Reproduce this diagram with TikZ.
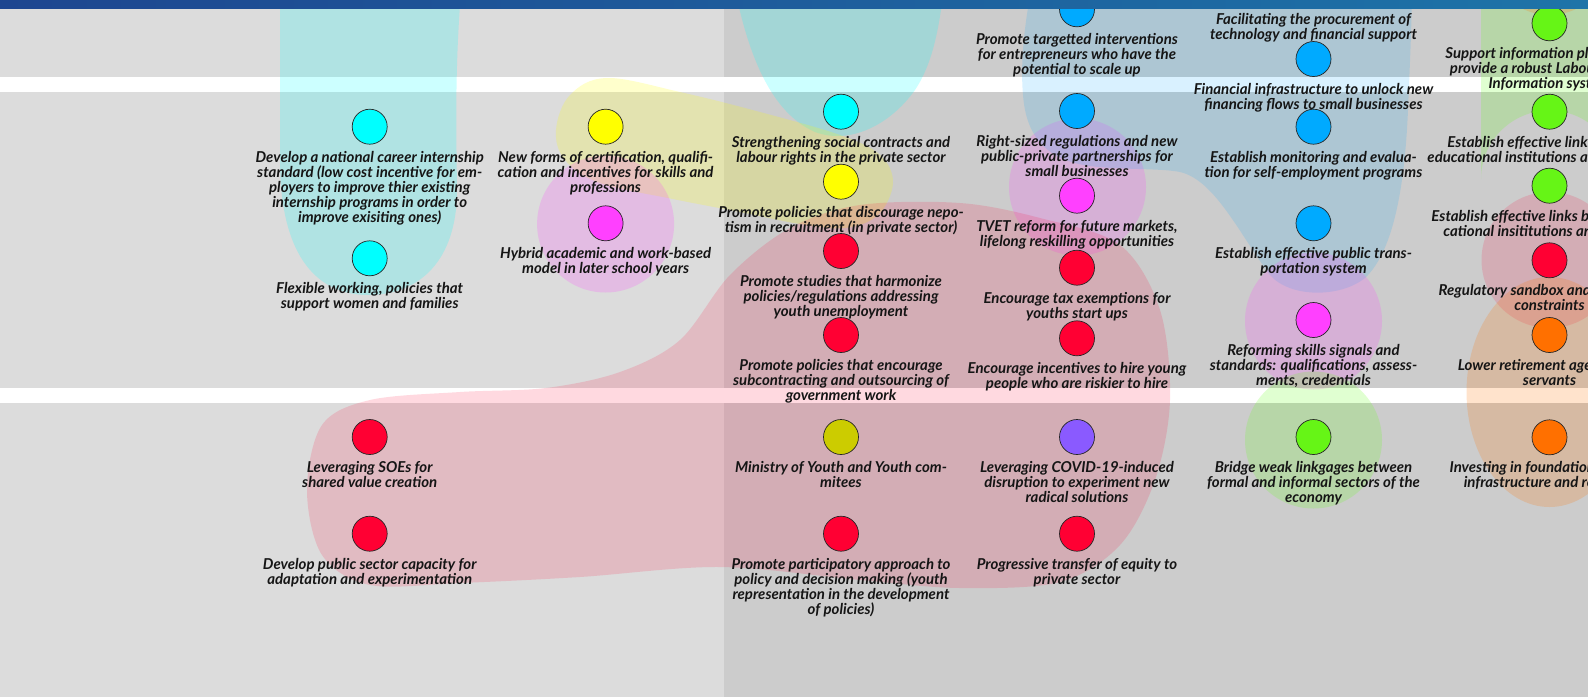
\documentclass[tikz,border=0pt]{standalone}
\usepackage{fontspec}
\setmainfont{Lato}
\definecolor{bgL}{HTML}{DCDCDC}
\definecolor{bgR}{HTML}{CCCCCC}
\definecolor{ncyan}{HTML}{00FFFF}
\definecolor{nyellow}{HTML}{FFFF00}
\definecolor{nmag}{HTML}{FF40FF}
\definecolor{nred}{HTML}{FF0033}
\definecolor{nblue}{HTML}{00AAFF}
\definecolor{ngreen}{HTML}{66F516}
\definecolor{norange}{HTML}{FF7000}
\definecolor{nolive}{HTML}{CCCC00}
\definecolor{npurple}{HTML}{8A5AFF}
\definecolor{barL}{HTML}{1E4690}
\definecolor{barR}{HTML}{1E74A8}
\definecolor{txtc}{HTML}{151515}
\tikzset{
  dot/.style={circle, draw=black!85, line width=0.7pt, minimum size=35pt, inner sep=0pt},
  txt/.style={anchor=north, align=center, inner sep=0pt, text=txtc,
    font=\fontsize{15}{15}\selectfont\bfseries\itshape, execute at begin node=\strut},
  below dot/.style={yshift=-24pt},
  blobcyan/.style={fill=ncyan, fill opacity=0.2},
  blobyellow/.style={fill=nyellow, fill opacity=0.2},
  blobmag/.style={fill=nmag, fill opacity=0.2},
  blobblue/.style={fill={rgb,255:red,0;green,165;blue,255}, fill opacity=0.15},
  blobred/.style={fill=nred, fill opacity=0.15},
  blobgreen/.style={fill={rgb,255:red,102;green,255;blue,26}, fill opacity=0.2},
  bloborange/.style={fill={rgb,255:red,255;green,115;blue,0}, fill opacity=0.2},
}
\begin{document}
\begin{tikzpicture}[x=1pt,y=-1pt]
\useasboundingbox (0,0) rectangle (1588,697);
\clip (0,0) rectangle (1588,697);
% background
\fill[bgL] (0,0) rectangle (724,697);
\fill[bgR] (724,0) rectangle (1588,697);
\fill[white] (0,77) rectangle (1588,92);
\fill[white] (0,388) rectangle (1588,403);
% blobs
\fill[blobcyan] (280,-20) -- (280,160) .. controls (280,260) and (320,295) .. (368,295)
  .. controls (420,295) and (457,260) .. (457,190) .. controls (456,120) and (455,60) .. (462,-20) -- cycle;
\fill[blobcyan] (733,-20) .. controls (745,40) and (765,110) .. (815,132)
  .. controls (850,145) and (890,125) .. (915,90) .. controls (935,60) and (940,20) .. (945,-20) -- cycle;
\fill[blobyellow] plot[smooth cycle, tension=0.6] coordinates {(607,78) (680,92) (760,112) (840,135) (880,155) (893,183) (878,215) (845,228) (800,224) (740,212) (673,199) (600,183) (565,160) (556,130) (570,95)};
\fill[blobmag] (605.6,224) circle (68.5);
\fill[blobmag] (1077.5,187) circle (68.5);
\fill[blobblue] (1033,-20) .. controls (1025,20) and (1020,60) .. (1023,95)
  .. controls (1026,135) and (1045,160) .. (1090,166)
  .. controls (1120,170) and (1160,168) .. (1180,172)
  .. controls (1215,180) and (1240,235) .. (1270,275)
  .. controls (1290,298) and (1340,298) .. (1365,278)
  .. controls (1395,250) and (1405,180) .. (1408,110)
  .. controls (1410,60) and (1412,20) .. (1412,-20) -- cycle;
\fill[blobmag] (1313.5,321) circle (68.5);
\fill[blobgreen] (1313.5,440) circle (68.5);
\fill[blobred] plot[smooth cycle, tension=0.55] coordinates {(307,490) (322,425) (370,400) (460,392) (546,388) (620,372) (680,340) (730,275) (790,228) (860,205) (960,203) (1040,218) (1120,245) (1160,310) (1170,400) (1155,480) (1120,545) (1060,582) (960,588) (860,580) (720,567) (580,577) (460,583) (370,585) (322,555)};
\fill[blobgreen] (1481,-20) -- (1481,179) arc[start angle=180, end angle=360, radius=68.5] -- (1618,-20) -- cycle;
\fill[blobred] (1549.5,260) circle (68);
\fill[bloborange] (1549.5,392) ellipse[x radius=83, y radius=115];
\fill[bloborange] (1549.5,-100) ellipse[x radius=83, y radius=115];
% column 1
\node[dot, fill=ncyan] (c1a) at (369.7,126.7) {};
\node[txt] (t1a) at ([below dot]c1a.center) {Develop a national career internship\\standard (low cost incentive for em-\\ployers to improve thier existing\\internship programs in order to\\improve exisiting ones)};
\node[dot, fill=ncyan] (c1b) at (369.7,258.3) {};
\node[txt] (t1b) at ([below dot]c1b.center) {Flexible working, policies that\\support women and families};
\node[dot, fill=nred] (c1c) at (369.7,437) {};
\node[txt] (t1c) at ([below dot]c1c.center) {Leveraging SOEs for\\shared value creation};
\node[dot, fill=nred] (c1d) at (369.7,533.7) {};
\node[txt] (t1d) at ([below dot]c1d.center) {Develop public sector capacity for\\adaptation and experimentation};
% column 2
\node[dot, fill=nyellow] (c2a) at (605.6,126.7) {};
\node[txt] (t2a) at ([below dot]c2a.center) {New forms of certification, qualifi-\\cation and incentives for skills and\\professions};
\node[dot, fill=nmag] (c2b) at (605.6,223.3) {};
\node[txt] (t2b) at ([below dot]c2b.center) {Hybrid academic and work-based\\model in later school years};
% column 3
\node[dot, fill=ncyan] (c3a) at (841,111.7) {};
\node[txt] (t3a) at ([below dot]c3a.center) {Strengthening social contracts and\\labour rights in the private sector};
\node[dot, fill=nyellow] (c3b) at (841,181.7) {};
\node[txt] (t3b) at ([below dot]c3b.center) {Promote policies that discourage nepo-\\tism in recruitment (in private sector)};
\node[dot, fill=nred] (c3c) at (841,251) {};
\node[txt] (t3c) at ([below dot]c3c.center) {Promote studies that harmonize\\policies/regulations addressing\\youth unemployment};
\node[dot, fill=nred] (c3d) at (841,335) {};
\node[txt] (t3d) at ([below dot]c3d.center) {Promote policies that encourage\\subcontracting and outsourcing of\\government work};
\node[dot, fill=nolive] (c3e) at (841,437) {};
\node[txt] (t3e) at ([below dot]c3e.center) {Ministry of Youth and Youth com-\\mitees};
\node[dot, fill=nred] (c3f) at (841,533.7) {};
\node[txt] (t3f) at ([below dot]c3f.center) {Promote participatory approach to\\policy and decision making (youth\\representation in the development\\of policies)};
% column 4
\node[dot, fill=nblue] (c4a) at (1077,9.3) {};
\node[txt] (t4a) at ([below dot]c4a.center) {Promote targetted interventions\\for entrepreneurs who have the\\potential to scale up};
\node[dot, fill=nblue] (c4b) at (1077,111) {};
\node[txt] (t4b) at ([below dot]c4b.center) {Right-sized regulations and new\\public-private partnerships for\\small businesses};
\node[dot, fill=nmag] (c4c) at (1077,195.7) {};
\node[txt] (t4c) at ([below dot]c4c.center) {TVET reform for future markets,\\lifelong reskilling opportunities};
\node[dot, fill=nred] (c4d) at (1077,267.7) {};
\node[txt] (t4d) at ([below dot]c4d.center) {Encourage tax exemptions for\\youths start ups};
\node[dot, fill=nred] (c4e) at (1077,338.3) {};
\node[txt] (t4e) at ([below dot]c4e.center) {Encourage incentives to hire young\\people who are riskier to hire};
\node[dot, fill=npurple] (c4f) at (1077,437) {};
\node[txt] (t4f) at ([below dot]c4f.center) {Leveraging COVID-19-induced\\disruption to experiment new\\radical solutions};
\node[dot, fill=nred] (c4g) at (1077,533.7) {};
\node[txt] (t4g) at ([below dot]c4g.center) {Progressive transfer of equity to\\private sector};
% column 5
\node[dot, fill=nblue] (c5a) at (1313.5,-10.7) {};
\node[txt] (t5a) at ([below dot]c5a.center) {Facilitating the procurement of\\technology and financial support};
\node[dot, fill=nblue] (c5b) at (1313.5,59) {};
\node[txt] (t5b) at ([below dot]c5b.center) {Financial infrastructure to unlock new\\financing flows to small businesses};
\node[dot, fill=nblue] (c5c) at (1313.5,126.7) {};
\node[txt] (t5c) at ([below dot]c5c.center) {Establish monitoring and evalua-\\tion for self-employment programs};
\node[dot, fill=nblue] (c5d) at (1313.5,223.3) {};
\node[txt] (t5d) at ([below dot]c5d.center) {Establish effective public trans-\\portation system};
\node[dot, fill=nmag] (c5e) at (1313.5,320) {};
\node[txt] (t5e) at ([below dot]c5e.center) {Reforming skills signals and\\standards: qualifications, assess-\\ments, credentials};
\node[dot, fill=ngreen] (c5f) at (1313.5,437) {};
\node[txt] (t5f) at ([below dot]c5f.center) {Bridge weak linkgages between\\formal and informal sectors of the\\economy};
% column 6
\node[dot, fill=ngreen] (c6a) at (1549.5,23.3) {};
\node[txt] (t6a) at ([below dot]c6a.center) {Support information platforms to\\provide a robust Labour Market\\Information system};
\node[dot, fill=ngreen] (c6b) at (1549.5,111.7) {};
\node[txt] (t6b) at ([below dot]c6b.center) {Establish effective links between\\educational institutions and employers};
\node[dot, fill=ngreen] (c6c) at (1549.5,185.7) {};
\node[txt] (t6c) at ([below dot]c6c.center) {Establish effective links between edu-\\cational insititutions and industry};
\node[dot, fill=nred] (c6d) at (1549.5,260.3) {};
\node[txt] (t6d) at ([below dot]c6d.center) {Regulatory sandbox and removal of\\constraints};
\node[dot, fill=norange] (c6e) at (1549.5,335) {};
\node[txt] (t6e) at ([below dot]c6e.center) {Lower retirement age for civil\\servants};
\node[dot, fill=norange] (c6f) at (1549.5,437.3) {};
\node[txt] (t6f) at ([below dot]c6f.center) {Investing in foundational digital\\infrastructure and research};
% top bar
\shade[left color=barL, right color=barR] (0,0) rectangle (1588,8);
\end{tikzpicture}
\end{document}
